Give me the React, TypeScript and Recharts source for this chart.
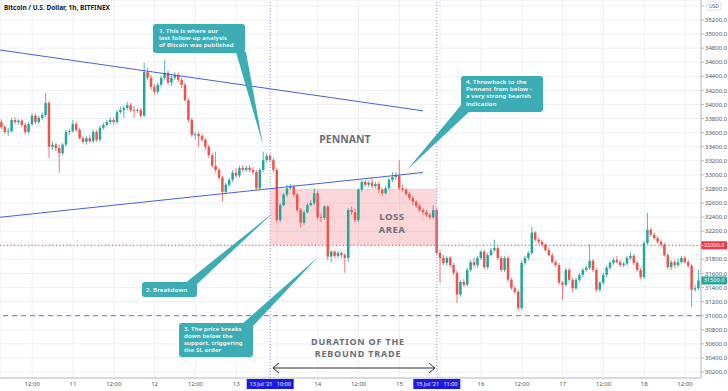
import { ComposedChart, Bar, XAxis, YAxis, CartesianGrid, ReferenceLine, ReferenceArea } from 'recharts'

// hourly candles, [open, high, low, close]
const jul10 = [
  [33750, 33790, 33650, 33680], [33680, 33710, 33580, 33610], [33610, 33670, 33550, 33620],
  [33620, 33810, 33600, 33780], [33780, 33820, 33720, 33750], [33750, 33790, 33710, 33770],
  [33770, 33790, 33680, 33710], [33710, 33740, 33570, 33610], [33610, 33750, 33580, 33720],
  [33720, 33870, 33700, 33840], [33840, 33870, 33720, 33750], [33750, 33840, 33720, 33810],
  [33810, 33890, 33780, 33850], [33850, 34160, 33820, 34020], [34020, 34050, 33240, 33400],
  [33400, 33480, 33350, 33430], [33430, 33450, 33340, 33380], [33380, 33430, 33030, 33310],
  [33310, 33450, 33280, 33430], [33430, 33640, 33400, 33610], [33610, 33650, 33570, 33620],
]
const jul11 = [
  [33620, 33780, 33600, 33720], [33720, 33750, 33610, 33640], [33640, 33670, 33500, 33520],
  [33520, 33550, 33440, 33470], [33470, 33550, 33430, 33520], [33520, 33570, 33450, 33480],
  [33480, 33640, 33450, 33610], [33610, 33640, 33470, 33500], [33500, 33700, 33470, 33670],
  [33670, 33740, 33640, 33710], [33710, 33780, 33680, 33750], [33750, 33820, 33720, 33780],
  [33780, 33810, 33710, 33750], [33750, 33920, 33720, 33890], [33890, 33970, 33870, 33920],
  [33920, 33980, 33810, 33950], [33950, 34040, 33920, 33990], [33990, 34020, 33890, 33920],
  [33920, 33980, 33810, 33910], [33910, 33950, 33880, 33920], [33920, 33950, 33810, 33840],
  [33840, 34590, 33820, 34460], [34460, 34520, 34350, 34380], [34380, 34420, 34210, 34250],
]
const jul12 = [
  [34250, 34290, 34140, 34180], [34180, 34310, 34150, 34280], [34280, 34410, 34250, 34380],
  [34380, 34630, 34350, 34450], [34450, 34480, 34280, 34310], [34310, 34410, 34260, 34380],
  [34380, 34460, 34350, 34420], [34420, 34450, 34320, 34350], [34350, 34380, 34230, 34280],
  [34280, 34310, 34040, 34060], [34060, 34090, 33750, 33780], [33780, 33810, 33540, 33570],
  [33570, 33610, 33500, 33580], [33580, 33610, 33400, 33550], [33550, 33580, 33470, 33500],
  [33500, 33520, 33350, 33400], [33400, 33430, 33240, 33280], [33280, 33310, 33100, 33130],
  [33130, 33330, 33030, 33070], [33070, 33100, 32930, 32960], [32960, 32990, 32620, 32760],
  [32760, 32890, 32720, 32860], [32860, 32960, 32830, 32930], [32930, 33070, 32900, 33030],
]
const jul13 = [
  [33030, 33100, 32960, 32990], [32990, 33130, 32960, 33100], [33100, 33140, 33040, 33070],
  [33070, 33130, 33040, 33100], [33100, 33140, 33040, 33070], [33070, 33110, 33000, 33040],
  [33040, 33070, 32790, 32810], [32810, 33100, 32790, 33070], [33070, 33330, 33040, 33210],
  [33210, 33300, 33180, 33270], [33270, 33300, 33180, 33210], [33210, 33240, 33040, 33070],
  [33070, 33100, 32320, 32360], [32360, 32600, 32330, 32570], [32570, 32740, 32550, 32720],
  [32720, 32860, 32690, 32810], [32810, 32870, 32790, 32830], [32830, 32860, 32690, 32720],
  [32720, 32740, 32470, 32500], [32500, 32530, 32250, 32320], [32320, 32500, 32290, 32470],
  [32470, 32600, 32450, 32570], [32570, 32640, 32550, 32600], [32600, 32810, 32570, 32740],
]
const jul14 = [
  [32740, 32770, 32370, 32400], [32400, 32450, 32330, 32390], [32390, 32570, 32360, 32550],
  [32550, 32570, 31790, 31840], [31840, 31930, 31760, 31910], [31910, 31930, 31820, 31850],
  [31850, 31920, 31820, 31890], [31890, 31920, 31820, 31860], [31860, 31890, 31610, 31820],
  [31820, 32530, 31760, 32500], [32500, 32550, 32430, 32470], [32470, 32520, 32330, 32360],
  [32360, 32810, 32330, 32790], [32790, 32930, 32760, 32900], [32900, 32930, 32830, 32860],
  [32860, 32910, 32830, 32890], [32890, 32960, 32810, 32840], [32840, 32900, 32810, 32870],
  [32870, 32900, 32740, 32790], [32790, 32810, 32700, 32740], [32740, 32840, 32720, 32810],
  [32810, 32960, 32790, 32930], [32930, 33040, 32900, 32970], [32970, 33040, 32930, 32990],
]
const jul15 = [
  [32990, 33210, 32790, 32810], [32810, 32860, 32760, 32790], [32790, 32810, 32700, 32730],
  [32730, 32760, 32640, 32670], [32670, 32700, 32570, 32620], [32620, 32640, 32530, 32560],
  [32560, 32590, 32470, 32500], [32500, 32530, 32430, 32470], [32470, 32500, 32400, 32430],
  [32430, 32460, 32370, 32400], [32400, 32570, 32370, 32500], [32500, 32530, 31860, 31890],
  [31890, 31930, 31470, 31820], [31820, 31860, 31720, 31750], [31750, 31850, 31710, 31820],
  [31820, 31850, 31690, 31720], [31720, 31750, 31580, 31610], [31610, 31640, 31180, 31300],
  [31300, 31510, 31270, 31480], [31480, 31520, 31410, 31440], [31440, 31680, 31410, 31650],
  [31650, 31790, 31620, 31760], [31760, 31820, 31690, 31720], [31720, 31850, 31680, 31820],
]
const jul16 = [
  [31820, 31930, 31790, 31910], [31910, 31930, 31660, 31690], [31690, 31890, 31660, 31860],
  [31860, 31960, 31840, 31930], [31930, 32080, 31910, 31960], [31960, 31990, 31790, 31820],
  [31820, 31850, 31620, 31650], [31650, 31850, 31620, 31820], [31820, 31850, 31480, 31510],
  [31510, 31540, 31370, 31390], [31390, 31420, 31310, 31340], [31340, 31370, 31070, 31110],
  [31110, 31780, 31080, 31750], [31750, 31850, 31720, 31820], [31820, 31920, 31790, 31890],
  [31890, 32260, 31860, 32180], [32180, 32200, 32050, 32080], [32080, 32100, 32020, 32050],
  [32050, 32080, 31980, 32010], [32010, 32030, 31910, 31930], [31930, 31960, 31840, 31860],
  [31860, 31890, 31740, 31760], [31760, 31790, 31690, 31720], [31720, 31750, 31440, 31470],
]
const jul17 = [
  [31470, 31490, 31220, 31440], [31440, 31680, 31410, 31650], [31650, 31680, 31480, 31510],
  [31510, 31540, 31340, 31390], [31390, 31540, 31370, 31510], [31510, 31610, 31480, 31580],
  [31580, 31680, 31550, 31650], [31650, 31710, 31620, 31680], [31680, 32010, 31650, 31780],
  [31780, 31810, 31620, 31650], [31650, 31680, 31340, 31370], [31370, 31490, 31340, 31470],
  [31470, 31610, 31440, 31580], [31580, 31710, 31550, 31680], [31680, 31780, 31650, 31750],
  [31750, 31820, 31720, 31790], [31790, 31850, 31740, 31760], [31760, 31790, 31690, 31720],
  [31720, 31760, 31690, 31740], [31740, 31850, 31710, 31820], [31820, 31910, 31790, 31850],
  [31850, 31880, 31720, 31750], [31750, 31780, 31620, 31650], [31650, 31680, 31520, 31550],
]
const jul18 = [
  [31550, 32060, 31520, 32030], [32030, 32460, 32010, 32220], [32220, 32250, 32120, 32150],
  [32150, 32180, 32080, 32100], [32100, 32130, 32020, 32050], [32050, 32080, 31980, 32010],
  [32010, 32030, 31840, 31860], [31860, 31890, 31660, 31690], [31690, 31790, 31650, 31760],
  [31760, 31790, 31680, 31720], [31720, 31810, 31690, 31760], [31760, 31850, 31740, 31820],
  [31820, 31850, 31740, 31760], [31760, 31790, 31680, 31710], [31710, 31740, 31120, 31370],
  [31370, 31440, 31340, 31390], [31390, 31650, 31370, 31500],
]

// hours from 11 Jul 00:00 at which each day's first candle opens
const dayStarts = [-21, 0, 24, 48, 72, 96, 120, 144, 168]
const days = [jul10, jul11, jul12, jul13, jul14, jul15, jul16, jul17, jul18]

const timeTicks = [-12, 0, 12, 24, 36, 48, 60, 72, 84, 96, 108, 120, 132, 144, 156, 168, 180]
const timeLabels = ['12:00', '11', '12:00', '12', '12:00', '13', '', '14', '12:00', '15', '', '16', '12:00', '17', '12:00', '18', '12:00']
const priceTicks = [
  30200, 30400, 30600, 30800, 31000, 31200, 31400, 31600, 31800, 32000, 32200, 32400, 32600,
  32800, 33000, 33200, 33400, 33600, 33800, 34000, 34200, 34400, 34600, 34800, 35000, 35200, 35400,
]
// labels hidden behind the price tags / currency box
const coveredPrices = [32000, 35400]

// pennant trendlines [hour, price]
const upperLine = [[-21.47, 34774], [102.94, 33910]]
const lowerLine = [[-21.47, 32398], [102.94, 33034]]
const lossArea = { from: 58, to: 107, low: 32000, high: 32800 }
const stopLevel = 32000
const supportLevel = 31000

const UP = '#26a69a'
const DOWN = '#ef5350'
const TEAL = '#3dadb5'

const candles = days.flatMap((rows, d) =>
  rows.map((r, i) => ({ t: dayStarts[d] + i, open: r[0], high: r[1], low: r[2], close: r[3] }))
)
const lastClose = candles[candles.length - 1].close

const Candle = (props: any) => {
  const { x, y, width, height, payload } = props
  const { open, high, low, close } = payload
  const top = Math.min(y, y + height)
  const h = Math.abs(height)
  const k = h / (high - low)
  const cx = x + width / 2
  const color = close >= open ? UP : DOWN
  const bodyTop = top + (high - Math.max(open, close)) * k
  const bodyH = Math.max(0.8, Math.abs(close - open) * k)
  return (
    <g>
      <line x1={cx} x2={cx} y1={top} y2={top + h} stroke={color} strokeWidth={0.8} />
      <rect x={cx - 1.25} y={bodyTop} width={2.5} height={bodyH} fill={color} />
    </g>
  )
}

const priceTag = (text: string, color: string) => (props: any) => {
  const vb = props.viewBox
  const x = vb.x + vb.width
  return (
    <g>
      <rect x={x} y={vb.y - 4} width={26} height={8} fill={color} rx={1} />
      <text x={x + 13} y={vb.y + 2} textAnchor="middle" fontSize={5.6} fill="#fff">{text}</text>
    </g>
  )
}

const dateTag = (text: string) => (props: any) => {
  const vb = props.viewBox
  const by = vb.y + vb.height + 1
  return (
    <g>
      <rect x={vb.x - 23.5} y={by} width={47} height={10} fill="#1a1ae6" />
      <text x={vb.x} y={by + 7} textAnchor="middle" fontSize={5.5} fill="#fff" xmlSpace="preserve">{text}</text>
    </g>
  )
}

function Callout({ x, y, w, h, tail, lines, tx, ty }: any) {
  return (
    <g>
      <polygon points={tail.map((p: number[]) => p.join(',')).join(' ')} fill={TEAL} />
      <rect x={x} y={y} width={w} height={h} rx={3} fill={TEAL} />
      <text x={tx} y={ty} fontSize={6} fontWeight={600} letterSpacing={0.15} fill="#fff">
        {lines.map((l: string, i: number) => (
          <tspan key={i} x={tx} dy={i === 0 ? 0 : 7.2}>{l}</tspan>
        ))}
      </text>
    </g>
  )
}

export default function App() {
  const big = { fontSize: 10.5, fontWeight: 700, fill: '#6b6e79', textAnchor: 'middle' as const }
  const loss = { fontSize: 9.6, fontWeight: 700, fill: '#6b6e79', textAnchor: 'middle' as const, letterSpacing: 0.5 }
  const dur = { fontSize: 9, fontWeight: 700, fill: '#6b6e79', textAnchor: 'middle' as const, letterSpacing: 0.8 }
  return (
    <div style={{ position: 'relative', width: 728, height: 391, background: '#fff', fontFamily: '"Noto Sans", sans-serif' }}>
      <style>{'body{margin:0}'}</style>
      <ComposedChart width={728} height={391} data={candles} margin={{ top: 0, right: 0, bottom: 0, left: 0 }}>
        <CartesianGrid stroke="#eef0f4" />
        <XAxis
          dataKey="t"
          type="number"
          domain={[-21.47, 184.7]}
          allowDataOverflow
          ticks={timeTicks}
          interval={0}
          tickFormatter={(v) => timeLabels[timeTicks.indexOf(v)]}
          height={13}
          tickLine={false}
          tickSize={2}
          axisLine={{ stroke: '#b8bcc6' }}
          tick={{ fontSize: 6, fill: '#555' }}
        />
        <YAxis
          orientation="right"
          width={27}
          domain={[30115, 35484]}
          allowDataOverflow
          ticks={priceTicks}
          interval={0}
          tickFormatter={(v) => (coveredPrices.includes(v) ? '' : v.toFixed(1))}
          tickSize={3}
          tickMargin={1}
          tickLine={{ stroke: '#b8bcc6' }}
          axisLine={{ stroke: '#b8bcc6' }}
          tick={{ fontSize: 6, fill: '#555' }}
        />
        <ReferenceArea x1={lossArea.from} x2={lossArea.to} y1={lossArea.low} y2={lossArea.high} fill="#f23645" fillOpacity={0.2} stroke="none" />
        <ReferenceLine y={stopLevel} stroke="#f23645" strokeDasharray="1 2.5" label={priceTag(stopLevel.toFixed(1), '#f23645')} />
        <ReferenceLine y={supportLevel} stroke="#6a74d6" strokeDasharray="5 4" />
        <ReferenceLine y={lastClose} stroke="none" label={priceTag(lastClose.toFixed(1), UP)} />
        <ReferenceLine x={lossArea.from} stroke="#9a8cf0" strokeDasharray="1 2" label={dateTag("13 Jul '21   10:00")} />
        <ReferenceLine x={lossArea.to} stroke="#9a8cf0" strokeDasharray="1 2" label={dateTag("15 Jul '21   11:00")} />
        <ReferenceLine segment={upperLine.map(([x, y]) => ({ x, y }))} stroke="#4a5fe0" />
        <ReferenceLine segment={lowerLine.map(([x, y]) => ({ x, y }))} stroke="#4a5fe0" />
        <Bar dataKey={(d: any) => [d.low, d.high]} barSize={3} shape={Candle} isAnimationActive={false} />
      </ComposedChart>
      <svg width={728} height={391} style={{ position: 'absolute', left: 0, top: 0, pointerEvents: 'none' }}>
        <text x={4} y={9.5} fontSize={6.5} fontWeight={700} fill="#131722">Bitcoin / U.S. Dollar, 1h, BITFINEX</text>
        <rect x={707} y={2} width={14} height={8} rx={1.5} fill="#fff" stroke="#c9ccd4" strokeWidth={0.6} />
        <text x={714} y={7.8} textAnchor="middle" fontSize={5} fill="#555">USD</text>

        <text x={345} y={143} {...big}>PENNANT</text>
        <text x={392} y={220} {...loss}>LOSS</text>
        <text x={392} y={233} {...loss}>AREA</text>
        <text x={358} y={345} {...dur}>DURATION OF THE</text>
        <text x={358} y={357} {...dur}>REBOUND TRADE</text>

        <g stroke="#2a2e39" strokeWidth={1} fill="none">
          <line x1={273} y1={368} x2={435} y2={368} />
          <polyline points="279,363 273,368 279,373" />
          <polyline points="429,363 435,368 429,373" />
        </g>

        <Callout x={153} y={24} w={92} h={29} tail={[[236, 52], [246, 52], [263, 145]]}
          lines={['1. This is where our', 'last follow-up analysis', 'of Bitcoin was published']} tx={159} ty={33} />
        <Callout x={142} y={282} w={55} h={15} tail={[[184, 284], [195, 286], [274, 212]]}
          lines={['2. Breakdown']} tx={146} ty={291.5} />
        <Callout x={179} y={323} w={74} h={34} tail={[[241, 325], [252, 327], [318, 257]]}
          lines={['3. The price breaks', 'down below the', 'support, triggering', 'the SL order']} tx={184} ty={330.5} />
        <Callout x={461} y={76} w={82} h={36} tail={[[462, 104], [470, 111], [407, 170]]}
          lines={['4. Throwback to the', 'Pennant from below -', 'a very strong bearish', 'indication']} tx={466} ty={84} />
      </svg>
    </div>
  )
}
